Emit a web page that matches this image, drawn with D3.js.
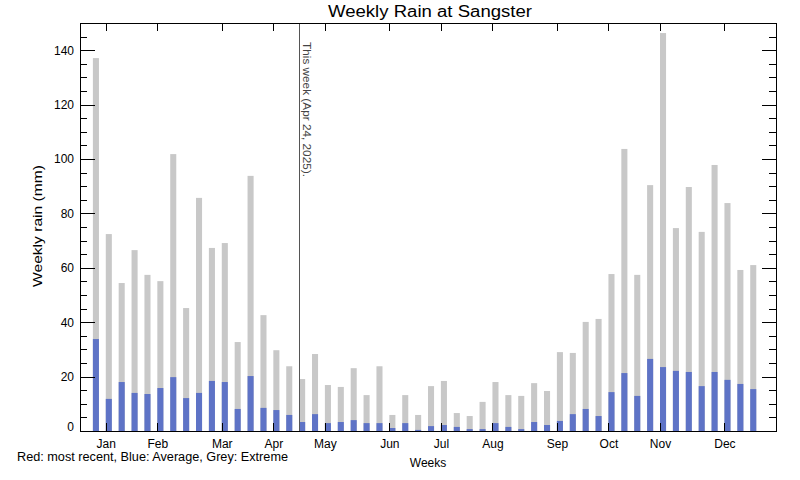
<!DOCTYPE html>
<html>
<head>
<meta charset="utf-8">
<script src="https://cdn.jsdelivr.net/npm/d3@7"></script>
<style>
  html, body { margin: 0; padding: 0; background: #fff; }
  text { font-family: "Liberation Sans", "DejaVu Sans", sans-serif; fill: #000; }
</style>
</head>
<body>
<svg id="chart" width="800" height="480"></svg>
<script>
// ---- data ----
const extremeRain = [137.1, 72.4, 54.4, 66.5, 57.4, 55.1, 101.8, 45.2, 85.7, 67.3, 69.1, 32.7, 93.8, 42.6, 29.7, 23.8, 19.1, 28.3,
  16.9, 16.2, 23.1, 13.2, 23.8, 5.9, 13.2, 5.9, 16.5, 18.4, 6.6, 5.5, 10.7, 18.0, 13.2, 12.9, 17.6, 14.7, 29.0,
  28.7, 40.1, 41.2, 57.7, 103.7, 57.4, 90.4, 146.3, 74.6, 89.7, 73.2, 97.8, 83.8, 59.2, 61.0];
const averageRain = [33.8, 11.8, 18.0, 14.0, 13.6, 15.8, 19.8, 12.1, 14.0, 18.4, 18.0, 8.1, 20.2, 8.5, 7.7, 5.9, 3.3, 6.2,
  2.9, 3.3, 4.0, 2.9, 2.9, 1.1, 2.9, 0.4, 1.8, 2.2, 1.5, 0.7, 0.7, 2.9, 1.5, 0.7, 3.3, 2.2, 3.7,
  6.2, 8.1, 5.5, 14.3, 21.3, 12.9, 26.5, 23.5, 22.1, 21.7, 16.5, 21.7, 18.8, 17.3, 15.4];
const monthLabels = ["Jan","Feb","Mar","Apr","May","Jun","Jul","Aug","Sep","Oct","Nov","Dec"];
const monthWeeks = [2, 6, 11, 15, 19, 24, 28, 32, 37, 41, 45, 50];
const yMajorTicks = [0, 20, 40, 60, 80, 100, 120, 140];
const thisWeek = 17;
const titleText = "Weekly Rain at Sangster";
const thisWeekText = "This week (Apr 24, 2025).";
const legendText = "Red: most recent, Blue: Average, Grey: Extreme";

// ---- layout ----
const L = 80, R = 776, T = 23, B = 431;
const svg = d3.select("#chart");
const x = d3.scaleLinear().domain([0, 54]).range([L, R]);
const y = d3.scaleLinear().domain([0, 150]).range([B, T]);
const barW = x(0.47) - x(0);

// bars
const weeks = extremeRain.map((d, i) => i + 1);
svg.append("g").selectAll("rect").data(weeks).join("rect")
  .attr("x", w => x(w)).attr("width", barW)
  .attr("y", w => y(extremeRain[w - 1])).attr("height", w => B - y(extremeRain[w - 1]))
  .attr("fill", "#c8c8c8");
svg.append("g").selectAll("rect").data(weeks).join("rect")
  .attr("x", w => x(w)).attr("width", barW)
  .attr("y", w => y(averageRain[w - 1])).attr("height", w => B - y(averageRain[w - 1]))
  .attr("fill", "#5e73c6");

// this week line
svg.append("line").attr("x1", x(thisWeek)).attr("x2", x(thisWeek))
  .attr("y1", T).attr("y2", B).attr("stroke", "#555").attr("stroke-width", 1)
  .attr("shape-rendering", "crispEdges");
svg.append("text")
  .attr("transform", `translate(${x(thisWeek) + 4},42) rotate(90)`)
  .attr("font-size", 11).attr("textLength", 135).attr("lengthAdjust", "spacingAndGlyphs")
  .style("fill", "#444").text(thisWeekText);

// axes
const minorTicks = d3.range(0, 151, 5).filter(v => v % 20 !== 0);
const leftMajor = svg.append("g").attr("transform", `translate(${L},0)`)
  .call(d3.axisLeft(y).tickValues(yMajorTicks).tickSizeInner(-15).tickSizeOuter(0).tickPadding(6));
const leftMinor = svg.append("g").attr("transform", `translate(${L},0)`)
  .call(d3.axisLeft(y).tickValues(minorTicks).tickSizeInner(-7).tickSizeOuter(0).tickFormat(""));
const rightMajor = svg.append("g").attr("transform", `translate(${R},0)`)
  .call(d3.axisLeft(y).tickValues(yMajorTicks).tickSizeInner(14).tickSizeOuter(0).tickFormat(""));
const rightMinor = svg.append("g").attr("transform", `translate(${R},0)`)
  .call(d3.axisLeft(y).tickValues(minorTicks).tickSizeInner(7).tickSizeOuter(0).tickFormat(""));
const xb = svg.append("g").attr("transform", `translate(0,${B})`)
  .call(d3.axisBottom(x).tickValues(monthWeeks).tickSizeInner(-8).tickSizeOuter(0).tickPadding(8.5)
    .tickFormat((d, i) => monthLabels[i]));
const xt = svg.append("g").attr("transform", `translate(0,${T})`)
  .call(d3.axisTop(x).tickValues(monthWeeks).tickSizeInner(-8).tickSizeOuter(0).tickFormat(""));

[leftMajor, leftMinor, rightMajor, rightMinor, xb, xt].forEach(g => {
  g.select(".domain").remove();
  g.selectAll("line").attr("stroke", "#000").attr("shape-rendering", "crispEdges");
  g.selectAll("text").attr("font-size", 12).attr("font-family", "Liberation Sans, DejaVu Sans, sans-serif").style("fill", "#000");
});
// the zero label sits slightly above its tick in the reference
leftMajor.selectAll(".tick").filter(d => d === 0).select("text").attr("dy", "-0.02em");

// frame
svg.append("rect").attr("x", L).attr("y", T).attr("width", R - L).attr("height", B - T)
  .attr("fill", "none").attr("stroke", "#000").attr("shape-rendering", "crispEdges");

// title and labels
svg.append("text").attr("x", (L + R) / 2 + 2).attr("y", 17).attr("text-anchor", "middle")
  .attr("font-size", 16).attr("textLength", 204).attr("lengthAdjust", "spacingAndGlyphs").text(titleText);
svg.append("text").attr("transform", `translate(42,226) rotate(-90)`).attr("text-anchor", "middle")
  .attr("font-size", 12).attr("textLength", 122).attr("lengthAdjust", "spacingAndGlyphs").text("Weekly rain (mm)");
svg.append("text").attr("x", 428).attr("y", 467).attr("text-anchor", "middle")
  .attr("font-size", 12).text("Weeks");
svg.append("text").attr("x", 17).attr("y", 461)
  .attr("font-size", 12).attr("textLength", 271).attr("lengthAdjust", "spacingAndGlyphs").text(legendText);
</script>
</body>
</html>
